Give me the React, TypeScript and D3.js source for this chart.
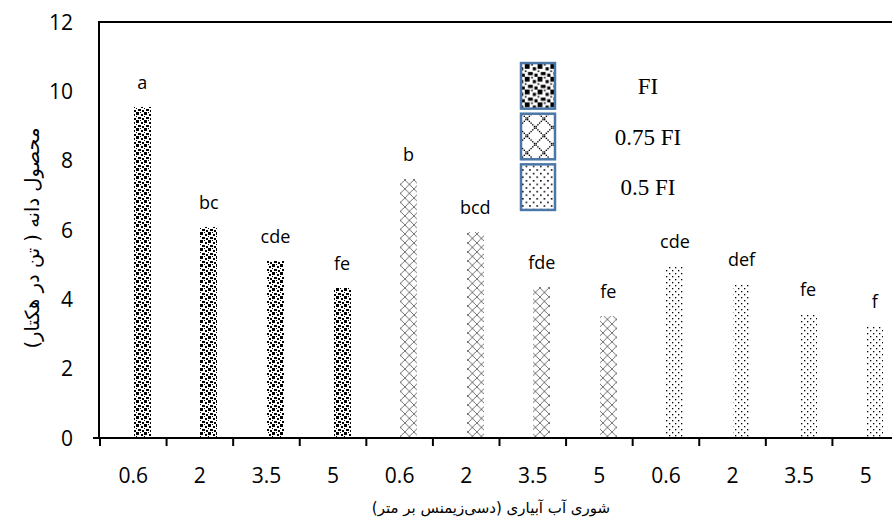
import React from "react";
import * as d3 from "d3";

const categories = ["0.6", "2", "3.5", "5", "0.6", "2", "3.5", "5", "0.6", "2", "3.5", "5"];
const treatments = ["FI", "FI", "FI", "FI", "0.75 FI", "0.75 FI", "0.75 FI", "0.75 FI", "0.5 FI", "0.5 FI", "0.5 FI", "0.5 FI"];
const yields = [9.55, 6.09, 5.1, 4.33, 7.47, 5.94, 4.36, 3.52, 4.95, 4.44, 3.58, 3.22];
const letters = ["a", "bc", "cde", "fe", "b", "bcd", "fde", "fe", "cde", "def", "fe", "f"];
const yTicks = [0, 2, 4, 6, 8, 10, 12];
const legendItems = ["FI", "0.75 FI", "0.5 FI"];

const yTitle = "محصول دانه ( تن در هکتار)";
const xTitle = "شوری آب آبیاری (دسی‌زیمنس بر متر)";

const W = 892;
const H = 530;
const left = 100;
const right = 899;
const top = 22;
const bottom = 438;

const patternId: Record<string, string> = { "FI": "pFI", "0.75 FI": "p075", "0.5 FI": "p05" };

function Patterns() {
  const confetti = [
    [0, 0, 3, 3], [5, 2, 2, 2], [2, 5, 3, 2], [6, 6, 2, 2], [4, 0, 1, 1], [0, 4, 1, 1],
  ];
  const diamond: number[][] = [];
  for (let i = 0; i < 10; i += 1) {
    diamond.push([i, i]);
    diamond.push([9 - i, i]);
  }
  const dotTile = (id: string, scale: number) => (
    <pattern id={id} width={6} height={6} patternUnits="userSpaceOnUse" patternTransform={`scale(${scale})`}>
      <rect width={6} height={6} fill="#fff" />
      <rect x={0} y={0} width={1.3} height={1.3} fill="#000" />
      <rect x={3} y={3} width={1.3} height={1.3} fill="#000" />
    </pattern>
  );
  const confTile = (id: string, scale: number) => (
    <pattern id={id} width={8} height={8} patternUnits="userSpaceOnUse" patternTransform={`scale(${scale})`}>
      <rect width={8} height={8} fill="#fff" />
      {confetti.map((r, k) => (
        <rect key={k} x={r[0]} y={r[1]} width={r[2]} height={r[3]} fill="#000" />
      ))}
    </pattern>
  );
  const diaTile = (id: string, scale: number) => (
    <pattern id={id} width={10} height={10} patternUnits="userSpaceOnUse" patternTransform={`scale(${scale})`}>
      <rect width={10} height={10} fill="#fff" />
      {diamond.map((r, k) => (
        <rect key={k} x={r[0]} y={r[1]} width={0.8} height={0.8} fill="#000" />
      ))}
    </pattern>
  );
  return (
    <defs>
      {confTile("pFI", 1)}
      {diaTile("p075", 0.9)}
      {dotTile("p05", 1)}
      {confTile("pFI_L", 1.6)}
      {diaTile("p075_L", 1.7)}
      {dotTile("p05_L", 1.2)}
    </defs>
  );
}

export default function App() {
  const idx = categories.map((_, i) => String(i));
  const x = d3.scaleBand<string>().domain(idx).range([left, right]).padding(0);
  const y = d3.scaleLinear().domain([0, 12]).range([bottom, top]);
  const bw = x.bandwidth();
  const barW = 17;
  const boundaries = d3.range(categories.length + 1).map((i) => left + i * bw);
  const legendY = d3.scaleBand<string>().domain(legendItems).range([58, 215]).padding(0.1);

  return (
    <svg width={W} height={H} style={{ position: "absolute", left: 0, top: 0, background: "#fff" }}>
      <Patterns />
      {yields.map((v, i) => {
        const cx = (x(String(i)) as number) + bw / 2 + 9;
        return (
          <g key={i}>
            <rect x={cx - barW / 2} y={y(v)} width={barW} height={bottom - y(v)} fill={`url(#${patternId[treatments[i]]})`} shapeRendering="crispEdges" />
            <text x={cx} y={y(v) - 18} textAnchor="middle" fontFamily="'Open Sans', sans-serif" fontSize={18} fill="#000">
              {letters[i]}
            </text>
          </g>
        );
      })}
      <line x1={99} x2={W} y1={top} y2={top} stroke="#000" strokeWidth={2} />
      <line x1={99} x2={99} y1={top - 1} y2={bottom + 1} stroke="#000" strokeWidth={2} />
      <line x1={93} x2={W} y1={bottom} y2={bottom} stroke="#000" strokeWidth={2} />
      {boundaries.map((b, i) => (
        <line key={i} x1={b} x2={b} y1={bottom} y2={bottom + 8} stroke="#000" strokeWidth={2} />
      ))}
      {yTicks.map((t) => (
        <text key={t} x={73} y={y(t)} dy="0.36em" textAnchor="end" fontFamily="'Open Sans', sans-serif" fontSize={21} fill="#000">
          {t}
        </text>
      ))}
      {categories.map((c, i) => (
        <text key={i} x={(x(String(i)) as number) + bw / 2} y={475} dy="0.36em" textAnchor="middle" fontFamily="'Open Sans', sans-serif" fontSize={21} fill="#000">
          {c}
        </text>
      ))}
      <text transform={`translate(32,238) rotate(-90)`} textAnchor="middle" dy="0.35em" fontFamily="'DejaVu Sans', sans-serif" fontSize={19.5} direction="rtl" fill="#000">
        {yTitle}
      </text>
      <text x={491} y={508} textAnchor="middle" dy="0.35em" fontFamily="'DejaVu Sans', sans-serif" fontSize={15} direction="rtl" fill="#000">
        {xTitle}
      </text>
      {legendItems.map((it) => {
        const ly = legendY(it) as number;
        const h = legendY.bandwidth();
        return (
          <g key={it}>
            <rect x={521} y={ly} width={34} height={h} fill={`url(#${patternId[it]}_L)`} stroke="#4a76a8" strokeWidth={2.5} />
            <text x={648} y={ly + h / 2} dy="0.35em" textAnchor="middle" fontFamily="'Liberation Serif', 'Times New Roman', serif" fontSize={23} fill="#000">
              {it}
            </text>
          </g>
        );
      })}
    </svg>
  );
}
